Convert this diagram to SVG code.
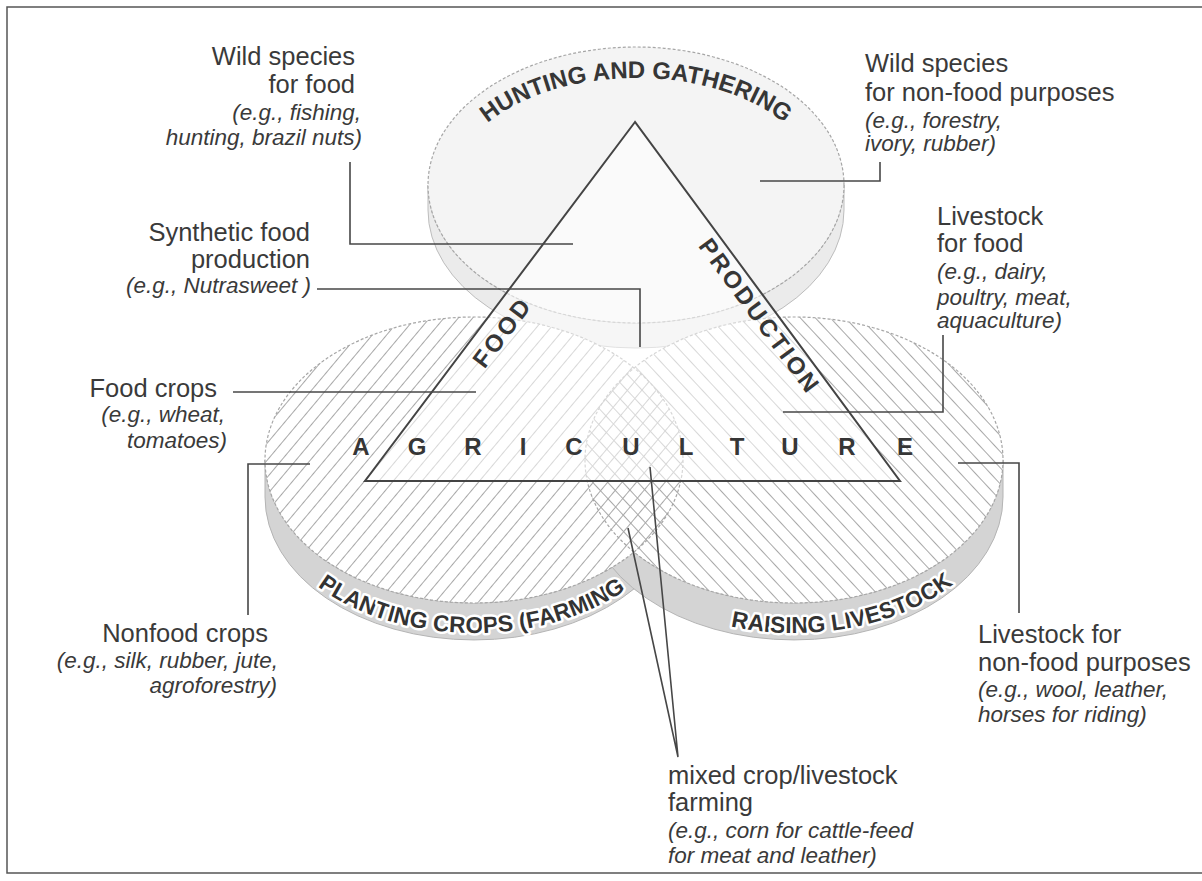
<svg xmlns="http://www.w3.org/2000/svg" width="1202" height="881" viewBox="0 0 1202 881">
  <style>
    .lbl { font-family: "Liberation Sans", Arial, sans-serif; font-size: 25.5px; fill: #3a3a3a; }
    .eg { font-style: italic; font-size: 22.5px; }
    .cap { font-family: "Liberation Sans", Arial, sans-serif; font-weight: bold; font-size: 24px; fill: #363636; }
    .band-text { font-family: "Liberation Sans", Arial, sans-serif; font-weight: bold; font-size: 23px; fill: #333; stroke: #fff; stroke-width: 5px; stroke-linejoin: round; paint-order: stroke; }
    .outline { fill: none; stroke: #a6a6a6; stroke-width: 1.2; stroke-dasharray: 3 2; }
    .band { fill: #d4d4d4; stroke: #b4b4b4; stroke-width: 1; }
    .leader { fill: none; stroke: #474747; stroke-width: 1.6; }
  </style>
  <defs>
    <pattern id="hatchLeft" width="11" height="11" patternUnits="userSpaceOnUse" patternTransform="rotate(-50)">
      <line x1="0" y1="5.5" x2="11" y2="5.5" stroke="#a8a8a8" stroke-width="1"/>
    </pattern>
    <pattern id="hatchRight" width="11" height="11" patternUnits="userSpaceOnUse" patternTransform="rotate(47)">
      <line x1="0" y1="5.5" x2="11" y2="5.5" stroke="#a8a8a8" stroke-width="1"/>
    </pattern>
    <clipPath id="clipLeft"><ellipse cx="474" cy="460" rx="209" ry="143"/></clipPath>
    <clipPath id="clipRight"><ellipse cx="794" cy="460" rx="209" ry="143"/></clipPath>
    <path id="arcTop" d="M452,188 A184,110 0 0 1 820,188"/>
    <path id="arcLeft" d="M262,490 A212,143 0 0 0 686,490"/>
    <path id="arcRight" d="M582,490 A212,143 0 0 0 1006,490"/>
  </defs>

  <rect width="1202" height="881" fill="#fff"/>
  <rect x="7" y="7" width="1210" height="866" fill="none" stroke="#555" stroke-width="1.5"/>

  <!-- upper disk: hunting and gathering -->
  <g id="hunting-gathering">
    <path d="M428,185 V210 A208,138 0 0 0 844,210 V185 A208,138 0 0 1 428,185 Z" fill="#ebebeb" stroke="#bdbdbd" stroke-width="1"/>
    <ellipse cx="636" cy="185" rx="208" ry="138" fill="#f4f4f4"/>
    <ellipse cx="636" cy="185" rx="208" ry="138" class="outline"/>
  </g>

  <!-- lower disks: planting crops and raising livestock -->
  <g id="planting-crops">
    <path class="band" d="M265,460 V497 A209,143 0 0 0 683,497 V460 A209,143 0 0 1 265,460 Z"/>
  </g>
  <g id="raising-livestock">
    <path class="band" d="M585,460 V497 A209,143 0 0 0 1003,497 V460 A209,143 0 0 1 585,460 Z"/>
  </g>
  <g id="disk-faces">
    <ellipse cx="474" cy="460" rx="209" ry="143" fill="#fff"/>
    <ellipse cx="794" cy="460" rx="209" ry="143" fill="#fff"/>
    <rect x="260" y="310" width="430" height="300" fill="url(#hatchLeft)" clip-path="url(#clipLeft)"/>
    <rect x="580" y="310" width="430" height="300" fill="url(#hatchRight)" clip-path="url(#clipRight)"/>
    <ellipse cx="474" cy="460" rx="209" ry="143" class="outline"/>
    <ellipse cx="794" cy="460" rx="209" ry="143" class="outline"/>
  </g>
  <g id="disk-titles">
    <text class="band-text"><textPath href="#arcLeft" startOffset="49.5%" text-anchor="middle">PLANTING CROPS (FARMING</textPath></text>
    <text class="band-text"><textPath href="#arcRight" startOffset="59.4%" text-anchor="middle">RAISING LIVESTOCK</textPath></text>
  </g>

  <!-- triangle: food production / agriculture -->
  <g id="food-production">
    <polygon points="635,122 365,481 900,481" fill="#fff" fill-opacity="0.55" stroke="#444" stroke-width="2"/>
    <text class="cap" font-size="23"><textPath href="#arcTop" startOffset="50%" text-anchor="middle">HUNTING AND GATHERING</textPath></text>
    <text class="cap" font-size="25" letter-spacing="3" text-anchor="middle" transform="translate(509,337) rotate(-53.05)">FOOD</text>
    <text class="cap" letter-spacing="2.5" text-anchor="middle" transform="translate(753,321) rotate(53.57)">PRODUCTION</text>
    <text class="cap" text-anchor="middle" x="361 417 473 523 574 631 686 737 790 847 905" y="455">AGRICULTURE</text>
  </g>

  <!-- leader lines -->
  <g id="connectors">
    <path class="leader" d="M350,162 V244 H573"/>
    <path class="leader" d="M317,289 H640 V347"/>
    <path class="leader" d="M760,181 H880 V162"/>
    <path class="leader" d="M943,335 V412 H783"/>
    <path class="leader" d="M233,392 H476"/>
    <path class="leader" d="M310,464 H248 V615"/>
    <path class="leader" d="M958,463 H1019 V613"/>
    <path class="leader" d="M628,528 L678,757 L650,467"/>
  </g>

  <!-- labels -->
  <g id="wild-food" class="lbl" text-anchor="end">
    <text x="355" y="65">Wild species</text>
    <text x="355" y="93">for food</text>
    <text class="eg" x="361" y="120">(e.g., fishing,</text>
    <text class="eg" x="362" y="145">hunting, brazil nuts)</text>
  </g>
  <g id="synthetic-food" class="lbl" text-anchor="end">
    <text x="310" y="241">Synthetic food</text>
    <text x="310" y="268">production</text>
    <text class="eg" x="311" y="293">(e.g., Nutrasweet )</text>
  </g>
  <g id="wild-nonfood" class="lbl">
    <text x="865" y="72">Wild species</text>
    <text x="865" y="101">for non-food purposes</text>
    <text class="eg" x="865" y="128">(e.g., forestry,</text>
    <text class="eg" x="865" y="151">ivory, rubber)</text>
  </g>
  <g id="livestock-food" class="lbl">
    <text x="937" y="225">Livestock</text>
    <text x="937" y="252">for food</text>
    <text class="eg" x="937" y="279">(e.g., dairy,</text>
    <text class="eg" x="937" y="305">poultry, meat,</text>
    <text class="eg" x="937" y="328">aquaculture)</text>
  </g>
  <g id="food-crops" class="lbl" text-anchor="end">
    <text x="217" y="397">Food crops</text>
    <text class="eg" x="225" y="422">(e.g., wheat,</text>
    <text class="eg" x="227" y="448">tomatoes)</text>
  </g>
  <g id="nonfood-crops" class="lbl" text-anchor="end">
    <text x="268" y="642">Nonfood crops</text>
    <text class="eg" x="278" y="668">(e.g., silk, rubber, jute,</text>
    <text class="eg" x="277" y="693">agroforestry)</text>
  </g>
  <g id="livestock-nonfood" class="lbl">
    <text x="978" y="643">Livestock for</text>
    <text x="978" y="671">non-food purposes</text>
    <text class="eg" x="978" y="697">(e.g., wool, leather,</text>
    <text class="eg" x="978" y="722">horses for riding)</text>
  </g>
  <g id="mixed-farming" class="lbl">
    <text x="668" y="784">mixed crop/livestock</text>
    <text x="668" y="811">farming</text>
    <text class="eg" x="668" y="838">(e.g., corn for cattle-feed</text>
    <text class="eg" x="668" y="863">for meat and leather)</text>
  </g>
</svg>
